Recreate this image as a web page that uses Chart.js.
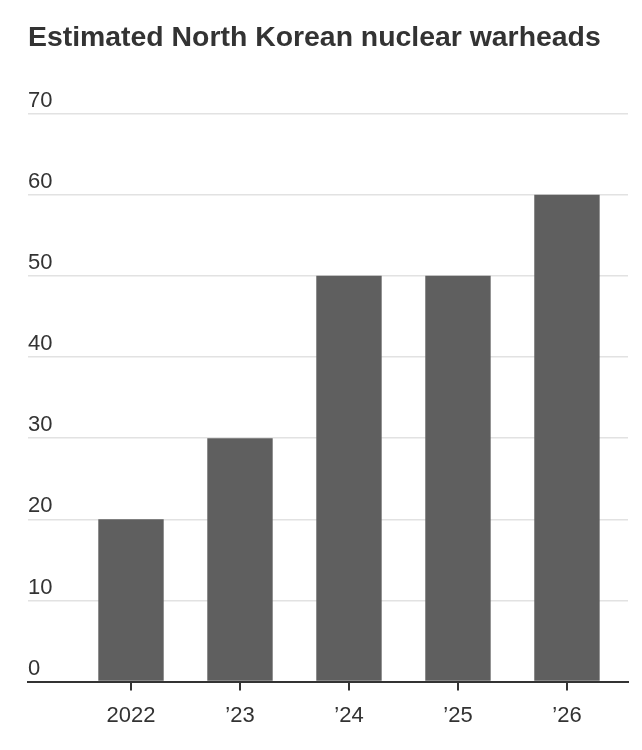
<!DOCTYPE html>
<html>
<head>
<meta charset="utf-8">
<script src="https://cdn.jsdelivr.net/npm/chart.js@4/dist/chart.umd.min.js"></script>
<style>
html,body{margin:0;padding:0;background:#fff;}
#wrap{width:642px;height:750px;position:relative;}
</style>
</head>
<body>
<div id="wrap"><canvas id="c" width="642" height="750"></canvas></div>
<script>
const titleText = "Estimated North Korean nuclear warheads";
const categories = ["2022", "\u201923", "\u201924", "\u201925", "\u201926"];
const warheads = [20, 30, 50, 50, 60];
const yTicks = [0, 10, 20, 30, 40, 50, 60, 70];

const ctx = document.getElementById('c');
new Chart(ctx, {
  type: 'bar',
  data: {
    datasets: [{
      data: warheads.map((v, i) => ({ x: i, y: v })),
      backgroundColor: '#5f5f5f',
      borderWidth: 0,
      barPercentage: 0.6,
      categoryPercentage: 1.0
    }]
  },
  options: {
    responsive: false,
    animation: false,
    devicePixelRatio: 1,
    layout: { padding: { left: 28, right: 14, top: 0, bottom: 9 } },
    plugins: {
      legend: { display: false },
      tooltip: { enabled: false },
      title: {
        display: true,
        text: titleText,
        align: 'start',
        color: '#333333',
        font: { family: "'Liberation Sans', sans-serif", size: 28.4, weight: 'bold' },
        padding: { top: 21, bottom: 58.5 }
      }
    },
    scales: {
      x: {
        type: 'linear',
        min: -0.945,
        max: 4.56,
        offset: false,
        afterBuildTicks: (s) => { s.ticks = categories.map((c, i) => ({ value: i })); },
        grid: { display: true, offset: false, drawOnChartArea: false, drawTicks: true, tickLength: 9, color: '#333333', lineWidth: 2 },
        border: { display: true, color: '#333333', width: 2 },
        ticks: {
          color: '#333333',
          font: { family: "'Liberation Sans', sans-serif", size: 22 },
          padding: 12,
          callback: (v) => categories[v]
        }
      },
      y: {
        min: 0, max: 70,
        afterBuildTicks: (s) => { s.ticks = yTicks.map(v => ({ value: v })); },
        grid: { color: '#e2e2e2', lineWidth: 1.5, drawTicks: false },
        border: { display: false },
        ticks: {
          mirror: true, padding: 0, labelOffset: -13,
          color: '#333333',
          font: { family: "'Liberation Sans', sans-serif", size: 22 }
        }
      }
    }
  }
});
</script>
</body>
</html>
